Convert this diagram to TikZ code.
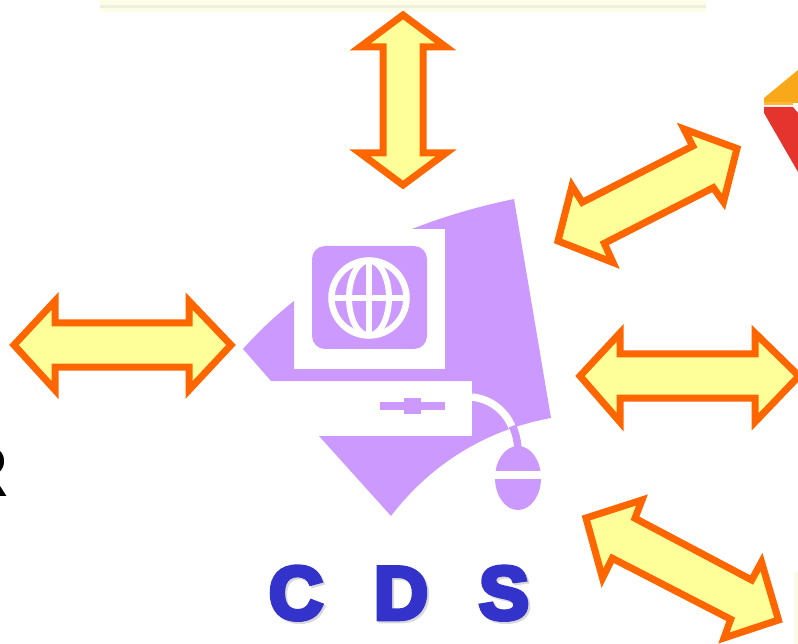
\documentclass[tikz,border=0pt]{standalone}
\usepackage{fontspec}
\setmainfont{Liberation Sans}
\newfontfamily\cdsfont[FakeBold=6]{Liberation Sans Bold}
\newfontfamily\rfont{Liberation Sans Bold}
\definecolor{arrowline}{HTML}{FF6600}
\definecolor{arrowfill}{HTML}{FFFF99}
\definecolor{lilac}{HTML}{CC99FF}
\definecolor{cdsblue}{HTML}{3333CC}
\definecolor{bandpale}{HTML}{FDFDE8}
\definecolor{banddark}{HTML}{EFEFDF}
\definecolor{logoorange}{HTML}{F9A81A}
\definecolor{logobright}{HTML}{FFB833}
\definecolor{logored}{HTML}{E5332E}
\tikzset{
  dblarrow/.style={draw=arrowline,fill=arrowfill,line width=7pt,miter limit=10,line join=miter},
  lilacshape/.style={fill=lilac,draw=none},
  whiteshape/.style={fill=white,draw=none},
  globeline/.style={draw=white,line width=6pt},
  cdsletter/.style={text=cdsblue,font=\cdsfont\fontsize{75}{75}\selectfont,inner sep=0pt,anchor=base},
  cdsshadow/.style={text=black!15,font=\cdsfont\fontsize{75}{75}\selectfont,inner sep=0pt,anchor=base},
}
\begin{document}
\begin{tikzpicture}[x=1pt,y=-1pt]
\useasboundingbox (0,0) rectangle (798,644);
\clip (0,0) rectangle (798,644);
% top band
\fill[bandpale] (100,0) rectangle (706,12);
\fill[banddark] (100,5) rectangle (706,8);
% bottom-right band
\fill[bandpale!80!banddark] (794,572) rectangle (798,644);
% logo
\fill[logoorange] (764,98) -- (798,70) -- (798,103) -- (764,103) -- cycle;
\fill[logobright] (764,102) rectangle (793,105);
\fill[logored] (764,107) -- (793,107) -- (798,113) -- (798,172) -- (764,113) -- cycle;
% R
\node[inner sep=0pt,anchor=base east,font=\rfont\fontsize{72}{72}\selectfont] (rletter) at (8.5,496) {R};
% arrows
\draw[dblarrow] (403,15) -- (446,47) -- (423,47) -- (423,153) -- (446,153) -- (403,185) -- (360,153) -- (383,153) -- (383,47) -- (360,47) -- cycle;
\draw[dblarrow] (14,345) -- (55,301) -- (55,323) -- (189,323) -- (189,301) -- (231,345) -- (189,390) -- (189,367) -- (55,367) -- (55,390) -- cycle;
\draw[dblarrow] (580,376) -- (620,333) -- (620,354) -- (755,354) -- (755,333) -- (799,376) -- (755,422) -- (755,398) -- (620,398) -- (620,422) -- cycle;
\draw[dblarrow] (558,241) -- (572,186) -- (582.3,202.3) -- (692.7,146) -- (684,129) -- (737,148.5) -- (723.5,202) -- (713.3,187.7) -- (604.3,243.3) -- (613,262.5) -- cycle;
\draw[dblarrow] (586,518) -- (642,500) -- (635,518.3) -- (751.7,580) -- (761.5,562) -- (778.5,620) -- (724,638) -- (730.7,619.3) -- (612.3,558.3) -- (602.5,578) -- cycle;
% computer
\fill[lilacshape] (412,229) .. controls (445,216) and (480,206) .. (514,199)
  -- (551,418) .. controls (485,430) and (430,465) .. (391,516)
  -- (319,436) -- (472,436) -- (472,381) -- (271,381) -- (243,349)
  .. controls (258,332) and (275,316) .. (294,301)
  -- (294,369) -- (445,369) -- (445,229) -- cycle;
\fill[lilacshape,rounded corners=13pt] (312,246) rectangle (427,349);
% globe
\draw[globeline,line width=6.5pt] (369,298) circle (37.5);
\draw[globeline] (369,298) ellipse (20 and 37.5);
\draw[globeline] (369,260) -- (369,336);
\draw[globeline] (333,298) -- (405,298);
% slider
\fill[lilacshape] (380,402) rectangle (445,410);
\fill[lilacshape] (404,398) rectangle (421,414);
% cable
\draw[white,line width=7.5pt] (472,397) .. controls (490,399) and (505,410) .. (512,427);
\draw[lilac,line width=7.5pt] (512.5,426) .. controls (516,434) and (517.5,441) .. (518,450);
% mouse
\fill[lilacshape] (518,478) ellipse (23 and 32);
\fill[whiteshape] (490,471) rectangle (546,479);
% letters
\node[cdsshadow] (cshadow) at (298,621) {C};
\node[cdsshadow] (dshadow) at (403,621) {D};
\node[cdsshadow] (sshadow) at (506,621) {S};
\node[cdsletter] (cletter) at (296,619) {C};
\node[cdsletter] (dletter) at (401,619) {D};
\node[cdsletter] (sletter) at (504,619) {S};
\end{tikzpicture}
\end{document}
